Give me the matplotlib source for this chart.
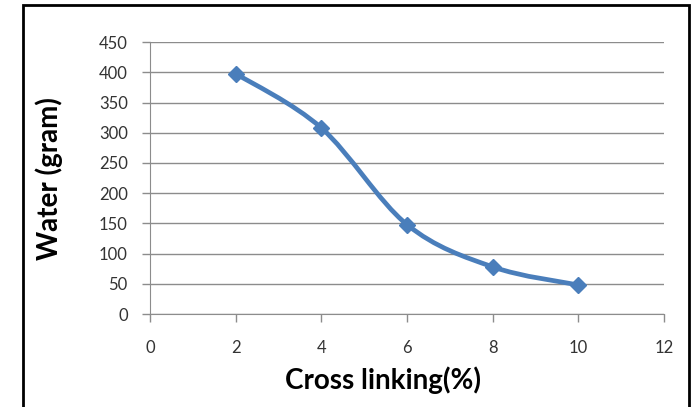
import matplotlib
matplotlib.use("Agg")
import matplotlib.pyplot as plt
import numpy as np
from matplotlib.path import Path
from matplotlib.patches import PathPatch, Rectangle

# 읽어낸 값
cross_linking = [2, 4, 6, 8, 10]
water = [398, 308, 148, 78, 48]
x_ticks = [0, 2, 4, 6, 8, 10, 12]
y_ticks = [0, 50, 100, 150, 200, 250, 300, 350, 400, 450]

LINE = "#4a7ebb"
GRID = "#8c8c8c"
TEXT = "#333333"
plt.rcParams["font.family"] = ["Lato", "DejaVu Sans"]


def smooth_path(xs, ys):
    """Excel 스타일 부드러운 선: Catmull-Rom 곡선을 베지어 경로로 만든다."""
    pts = np.column_stack([xs, ys]).astype(float)
    verts = [pts[0]]
    codes = [Path.MOVETO]
    n = len(pts)
    for i in range(n - 1):
        p0 = pts[max(i - 1, 0)]
        p1, p2 = pts[i], pts[i + 1]
        p3 = pts[min(i + 2, n - 1)]
        c1 = p1 + (p2 - p0) / 6
        c2 = p2 - (p3 - p1) / 6
        verts += [c1, c2, p2]
        codes += [Path.CURVE4] * 3
    return Path(verts, codes)


fig = plt.figure(figsize=(6.91, 4.07), dpi=100)
ax = fig.add_axes([0.217, 0.2285, 0.744, 0.668])

ax.add_patch(PathPatch(smooth_path(cross_linking, water), facecolor="none",
                       edgecolor=LINE, lw=3.4, zorder=3, capstyle="round"))
ax.plot(cross_linking, water, ls="none", marker="D", ms=8.5, color=LINE, zorder=4)

ax.set_xlim(0, 12)
ax.set_ylim(0, 450)
ax.set_xticks(x_ticks)
ax.set_yticks(y_ticks)
ax.yaxis.grid(True, color=GRID, lw=1)
ax.set_axisbelow(True)
for side in ("top", "right"):
    ax.spines[side].set_visible(False)
for side in ("left", "bottom"):
    ax.spines[side].set_color(GRID)
ax.tick_params(colors=GRID, length=6, width=1, labelcolor=TEXT, labelsize=12)
ax.tick_params(axis="x", pad=13)
ax.tick_params(axis="y", pad=10)

# Excel 원본처럼 x축 제목은 약간 왼쪽에 있다
ax.set_xlabel("Cross linking(%)", fontsize=20, fontweight="bold", color="black", va="center")
ax.xaxis.set_label_coords(0.453, -0.243)
ax.set_ylabel("Water (gram)", fontsize=20, fontweight="bold", color="black", labelpad=26)

# 바깥 테두리
fig.patches.append(Rectangle((23 / 691, -0.05), (689 - 23) / 691, 1.05 - 5 / 407,
                             transform=fig.transFigure, fill=False,
                             edgecolor="black", lw=2, zorder=10))

fig.savefig("out.png", dpi=100)
